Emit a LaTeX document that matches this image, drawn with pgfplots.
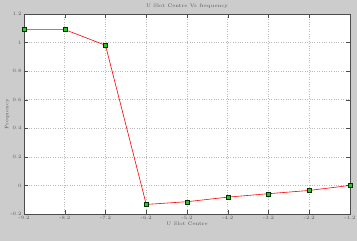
\documentclass[border=0pt]{standalone}
\usepackage{pgfplots}
\pgfplotsset{compat=1.18}
\definecolor{figbg}{RGB}{204,204,204}
\definecolor{mkgreen}{RGB}{40,200,40}
\begin{document}
\begin{tikzpicture}
\useasboundingbox (-24pt,-27pt) rectangle (333pt,214pt);
\fill[figbg] (-24pt,-27pt) rectangle (333pt,214pt);
\begin{axis}[
  at={(0pt,0pt)}, anchor=south west,
  scale only axis, width=326pt, height=200pt,
  xmin=-9.2, xmax=-1.2, ymin=-0.2, ymax=1.2,
  xtick={-9.2,-8.2,...,-1.2},
  xticklabels={-9.2,-8.2,-7.2,-6.2,-5.2,-4.2,-3.2,-2.2,-1.2},
  ytick={-0.2,0,0.2,0.4,0.6,0.8,1,1.2},
  yticklabels={-0.2,0,0.2,0.4,0.6,0.8,1,1.2},
  tick label style={font=\fontsize{5}{6}\selectfont, text=black!65},
  grid=major,
  major grid style={dotted, gray!55, line width=0.5pt},
  axis line style={gray!60!black, line width=0.7pt},
  tick style={gray!60!black},
  axis background/.style={fill=white},
  title={U Slot Centre Vs frequency},
  title style={font=\fontsize{5}{6}\selectfont, text=black!65, yshift=-4pt},
  xlabel={U Slot Centre},
  ylabel={Frequency},
  label style={font=\fontsize{5}{6}\selectfont, text=black!65},
  xlabel style={yshift=5pt},
  ylabel style={yshift=-6pt},
  xticklabel style={yshift=1pt},
  yticklabel style={xshift=1pt},
]
\addplot[red, line width=0.6pt, mark=square*, mark size=2pt,
  mark options={fill=mkgreen, draw=black!80!green, line width=0.4pt}]
  coordinates {
  (-9.2,1.091) (-8.2,1.091) (-7.2,0.981) (-6.2,-0.133) (-5.2,-0.114)
  (-4.2,-0.082) (-3.2,-0.058) (-2.2,-0.035) (-1.2,0.0)
  };
\end{axis}
\end{tikzpicture}
\end{document}
